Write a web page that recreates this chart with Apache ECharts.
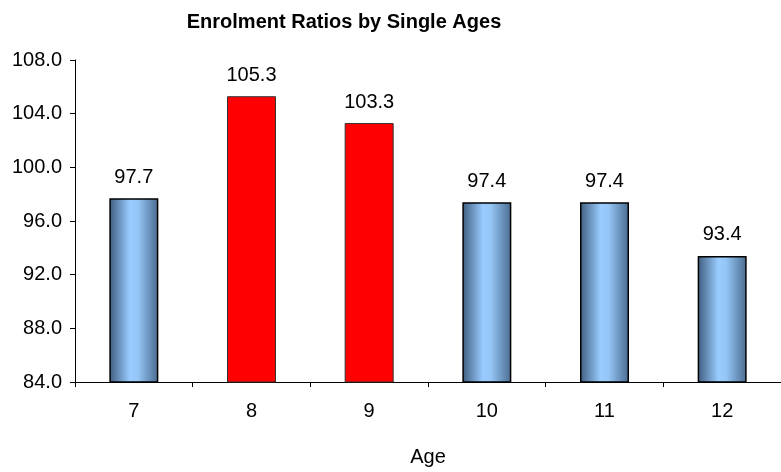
<!DOCTYPE html>
<html>
<head>
<meta charset="utf-8">
<script src="https://cdn.jsdelivr.net/npm/echarts@6/dist/echarts.min.js"></script>
<style>
  html, body { margin: 0; padding: 0; background: #fff; }
  #chart { width: 781px; height: 472px; }
</style>
</head>
<body>
<div id="chart"></div>
<script>
// Enrolment ratios by single year of age
var ages = ['7', '8', '9', '10', '11', '12'];
var ratios = [97.7, 105.3, 103.3, 97.4, 97.4, 93.4];
var highlighted = [false, true, true, false, false, false];
var yTicks = { min: 84, max: 108, step: 4 };

var blueFill = new echarts.graphic.LinearGradient(0, 0, 1, 0, [
  { offset: 0, color: '#3f5c7e' },
  { offset: 0.42, color: '#99ccff' },
  { offset: 0.58, color: '#95c6f6' },
  { offset: 1, color: '#4a6b90' }
]);

var font = 'Arial, "Liberation Sans", sans-serif';

var chart = echarts.init(document.getElementById('chart'), null, { renderer: 'canvas' });
chart.setOption({
  animation: false,
  backgroundColor: '#ffffff',
  title: {
    text: 'Enrolment Ratios by Single Ages',
    left: 339,
    top: 7,
    textAlign: 'center',
    textStyle: { fontFamily: font, fontSize: 20, fontWeight: 'bold', color: '#000' }
  },
  grid: { left: 75, right: -12, top: 60, bottom: 79, containLabel: false },
  xAxis: {
    type: 'category',
    data: ages,
    name: 'Age',
    nameLocation: 'middle',
    nameGap: 65,
    nameTextStyle: { fontFamily: font, fontSize: 20, color: '#000' },
    axisLine: { lineStyle: { color: '#000', width: 1 } },
    axisTick: { show: true, alignWithLabel: false, length: 5, lineStyle: { color: '#000' } },
    axisLabel: { fontFamily: font, fontSize: 20, color: '#000', margin: 19 },
    splitLine: { show: false }
  },
  yAxis: {
    type: 'value',
    min: yTicks.min,
    max: yTicks.max,
    interval: yTicks.step,
    axisLine: { show: true, lineStyle: { color: '#000', width: 1 } },
    axisTick: { show: true, length: 5, lineStyle: { color: '#000' } },
    axisLabel: {
      fontFamily: font, fontSize: 20, color: '#000', margin: 13,
      formatter: function (v) { return v.toFixed(1); }
    },
    splitLine: { show: false }
  },
  series: [{
    type: 'bar',
    barWidth: 49,
    data: ratios.map(function (v, i) {
      return {
        value: v,
        itemStyle: highlighted[i]
          ? { color: '#ff0000', borderColor: '#333', borderWidth: 1 }
          : { color: blueFill, borderColor: '#000', borderWidth: 1.5 }
      };
    }),
    label: {
      show: true,
      position: 'top',
      distance: 11,
      fontFamily: font,
      fontSize: 20,
      color: '#000',
      formatter: function (p) { return p.value.toFixed(1); }
    }
  }]
});
</script>
</body>
</html>
